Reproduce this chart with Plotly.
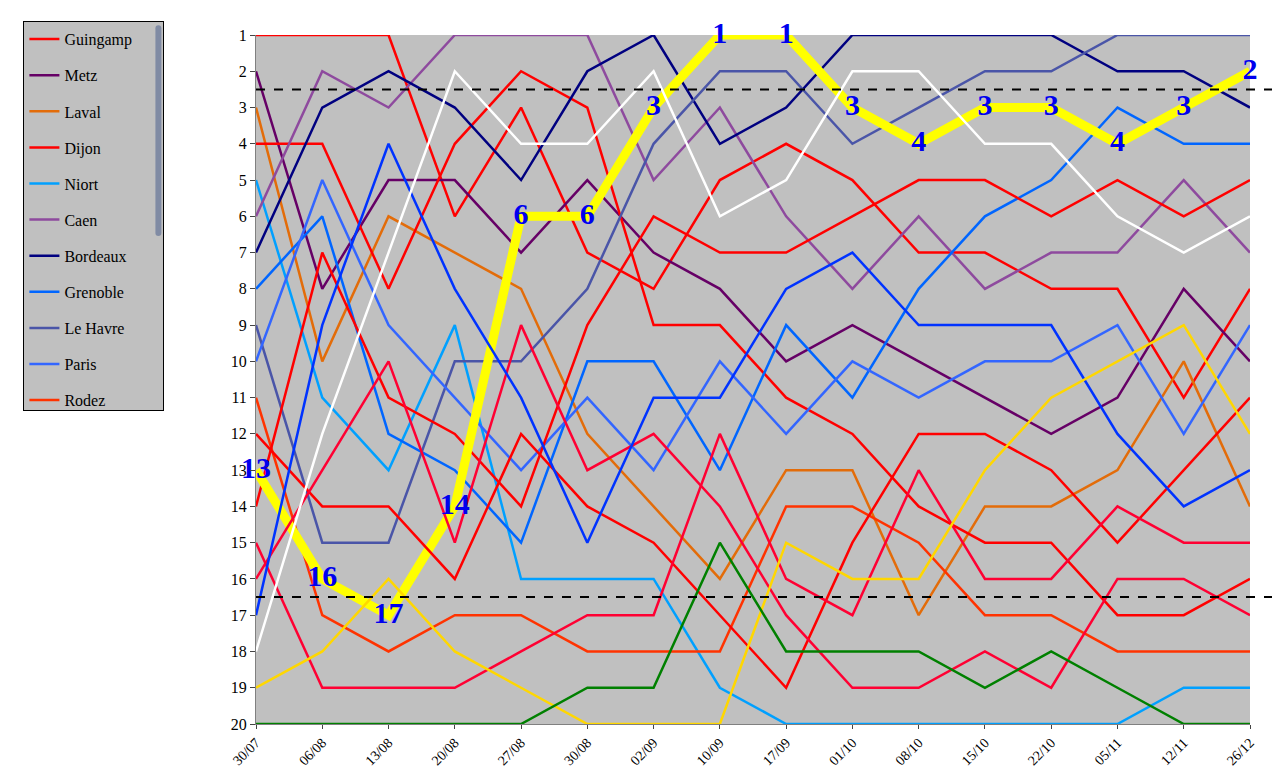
import plotly.graph_objects as go

# dates of each ranking
dates = ["30/07", "06/08", "13/08", "20/08", "27/08", "30/08", "02/09", "10/09",
         "17/09", "01/10", "08/10", "15/10", "22/10", "05/11", "12/11", "26/12"]

teams = ["Guingamp", "Metz", "Laval", "Dijon", "Niort", "Caen", "Bordeaux", "Grenoble",
         "Le Havre", "Paris", "Rodez", "Rouen", "Sochaux", "Valenciennes", "Annecy",
         "Nimes", "Bastia", "Amiens", "Pau", "St Etienne"]

guingamp = [1, 1, 1, 6, 3, 7, 8, 5, 4, 5, 7, 7, 8, 8, 11, 8]
metz = [2, 8, 5, 5, 7, 5, 7, 8, 10, 9, 10, 11, 12, 11, 8, 10]
laval = [3, 10, 6, 7, 8, 12, 14, 16, 13, 13, 17, 14, 14, 13, 10, 14]
dijon = [4, 4, 8, 4, 2, 3, 9, 9, 11, 12, 14, 15, 15, 17, 17, 16]
niort = [5, 11, 13, 9, 16, 16, 16, 19, 20, 20, 20, 20, 20, 20, 19, 19]
caen = [6, 2, 3, 1, 1, 1, 5, 3, 6, 8, 6, 8, 7, 7, 5, 7]
bordeaux = [7, 3, 2, 3, 5, 2, 1, 4, 3, 1, 1, 1, 1, 2, 2, 3]
grenoble = [8, 6, 12, 13, 15, 10, 10, 13, 9, 11, 8, 6, 5, 3, 4, 4]
le_havre = [9, 15, 15, 10, 10, 8, 4, 2, 2, 4, 3, 2, 2, 1, 1, 1]
paris = [10, 5, 9, 11, 13, 11, 13, 10, 12, 10, 11, 10, 10, 9, 12, 9]
rodez = [11, 17, 18, 17, 17, 18, 18, 18, 14, 14, 15, 17, 17, 18, 18, 18]
rouen = [14, 7, 11, 12, 14, 9, 6, 7, 7, 6, 5, 5, 6, 5, 6, 5]
sochaux = [13, 16, 17, 14, 6, 6, 3, 1, 1, 3, 4, 3, 3, 4, 3, 2]
valenciennes = [12, 14, 14, 16, 12, 14, 15, 17, 19, 15, 12, 12, 13, 15, 13, 11]
annecy = [15, 19, 19, 19, 18, 17, 17, 12, 16, 17, 13, 16, 16, 14, 15, 15]
nimes = [16, 13, 10, 15, 9, 13, 12, 14, 17, 19, 19, 18, 19, 16, 16, 17]
bastia = [17, 9, 4, 8, 11, 15, 11, 11, 8, 7, 9, 9, 9, 12, 14, 13]
amiens = [18, 12, 7, 2, 4, 4, 2, 6, 5, 2, 2, 4, 4, 6, 7, 6]
pau = [19, 18, 16, 18, 19, 20, 20, 20, 15, 16, 16, 13, 11, 10, 9, 12]
st_etienne = [20, 20, 20, 20, 20, 19, 19, 15, 18, 18, 18, 19, 18, 19, 20, 20]

ranks = [guingamp, metz, laval, dijon, niort, caen, bordeaux, grenoble, le_havre, paris,
         rodez, rouen, sochaux, valenciennes, annecy, nimes, bastia, amiens, pau, st_etienne]

colors = ["#FF0000", "#660066", "#E36C09", "#FF0000", "#00A0FF", "#8E4A9E", "#000080",
          "#0066FF", "#4A55A8", "#3366FF", "#FF3300", "#FF0000", "#FFFF00", "#FF0000",
          "#FF0033", "#FF0033", "#0033FF", "#FFFFFF", "#FFD700", "#008000"]

x = list(range(len(dates)))

fig = go.Figure()
for name, r, c in zip(teams, ranks, colors):
    is_soch = name == "Sochaux"
    fig.add_trace(go.Scatter(
        x=x, y=r, mode="lines", name=name, legendgroup=name,
        line=dict(color=c, width=9 if is_soch else 2.5),
    ))

# Sochaux position labels
fig.add_trace(go.Scatter(
    x=x, y=sochaux, mode="text", text=[f"<b>{v}</b>" for v in sochaux],
    textfont=dict(family="Liberation Serif", size=30, color="#0000EE"),
    showlegend=False, hoverinfo="skip", cliponaxis=False,
))

# promotion / relegation lines
for yv in [2.5, 16.5]:
    fig.add_shape(type="line", xref="paper", x0=0, x1=1.04, y0=yv, y1=yv,
                  line=dict(color="black", width=2, dash="dash"))

fig.update_layout(
    width=1280, height=780,
    margin=dict(l=248, r=38, t=27, b=64, autoexpand=False),
    paper_bgcolor="white", plot_bgcolor="#C0C0C0",
    font=dict(family="Liberation Serif", size=16, color="black"),
    legend=dict(x=-0.234, y=1.02, xanchor="left", yanchor="top",
                bgcolor="#C0C0C0", bordercolor="black", borderwidth=1,
                tracegroupgap=12.3, font=dict(size=16), itemwidth=30),
    xaxis=dict(range=[0, 15], tickvals=x, ticktext=dates, tickangle=-45,
               showgrid=False, zeroline=False, ticks="outside", ticklen=4,
               showline=True, linecolor="#808080", tickfont=dict(size=14)),
    yaxis=dict(range=[20, 1], tickvals=list(range(1, 21)), showgrid=False,
               zeroline=False, ticks="outside", ticklen=5, showline=True,
               linecolor="#808080", tickfont=dict(size=16)),
)

fig.write_html("out.html")
